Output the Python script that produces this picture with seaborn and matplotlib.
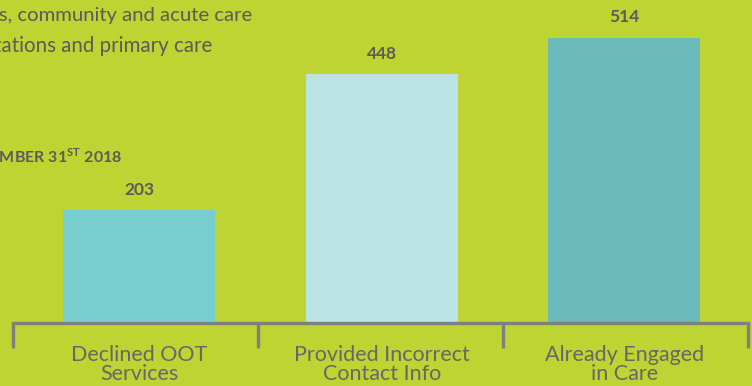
import matplotlib
matplotlib.use("Agg")
import matplotlib.pyplot as plt
import seaborn as sns
import pandas as pd
from matplotlib.ticker import FixedLocator

categories = ["Declined OOT\nServices", "Provided Incorrect\nContact Info", "Already Engaged\nin Care"]
values = [203, 448, 514]
bar_colors = ["#78CECE", "#BBE3E3", "#6BBBBB"]
divider_positions = [-0.52, 0.49, 1.5, 2.51]

BG = "#BDD432"
TEXT = "#5B5B5B"
LINE = "#7F7F7F"

sns.set_theme(style="white")
plt.rcParams["font.family"] = ["Lato", "DejaVu Sans"]

df = pd.DataFrame({"category": categories, "value": values})

fig = plt.figure(figsize=(7.52, 3.86), dpi=100, facecolor=BG)
W, H = 752, 386
ax = fig.add_axes([13 / W, (H - 323) / H, 735 / W, 323 / H])
ax.set_facecolor(BG)

sns.barplot(data=df, x="category", y="value", hue="category",
            palette=bar_colors, width=0.627, saturation=1, legend=False,
            linewidth=0, ax=ax)

ax.set_xlim(-0.52, 2.51)
ax.set_ylim(0, 582)
ax.set_xlabel("")
ax.set_ylabel("")
ax.set_yticks([])

for side in ["top", "left", "right"]:
    ax.spines[side].set_visible(False)
ax.spines["bottom"].set_color(LINE)
ax.spines["bottom"].set_linewidth(2.4)

# bracket-style dividers between categories
ax.xaxis.set_minor_locator(FixedLocator(divider_positions))
ax.tick_params(axis="x", which="minor", direction="out", length=18,
               width=2.4, color=LINE, bottom=True)
ax.tick_params(axis="x", which="major", length=0, pad=16, bottom=True)
for lbl in ax.get_xticklabels():
    lbl.set_fontfamily(["Lato", "DejaVu Sans"])
    lbl.set_fontweight("normal")
    lbl.set_fontsize(15.5)
    lbl.set_color("#676767")
    lbl.set_linespacing(0.95)

for container in ax.containers:
    ax.bar_label(container, fmt="%d", padding=9, fontsize=12.5,
                 fontweight="bold", color=TEXT)

# running header text, partly cut off at the left edge
fig.text(252 / W, 1 - 15 / H, "services, community and acute care",
         ha="right", va="center", fontsize=14.6, color=TEXT)
fig.text(212 / W, 1 - 46 / H, "organizations and primary care",
         ha="right", va="center", fontsize=14.8, color=TEXT)
fig.text(122 / W, 1 - 156 / H, r"AS OF DECEMBER 31$^{\mathregular{ST}}$ 2018",
         ha="right", va="center", fontsize=11.5, fontweight="bold", color=TEXT)

fig.savefig("out.png", dpi=100, facecolor=BG)
